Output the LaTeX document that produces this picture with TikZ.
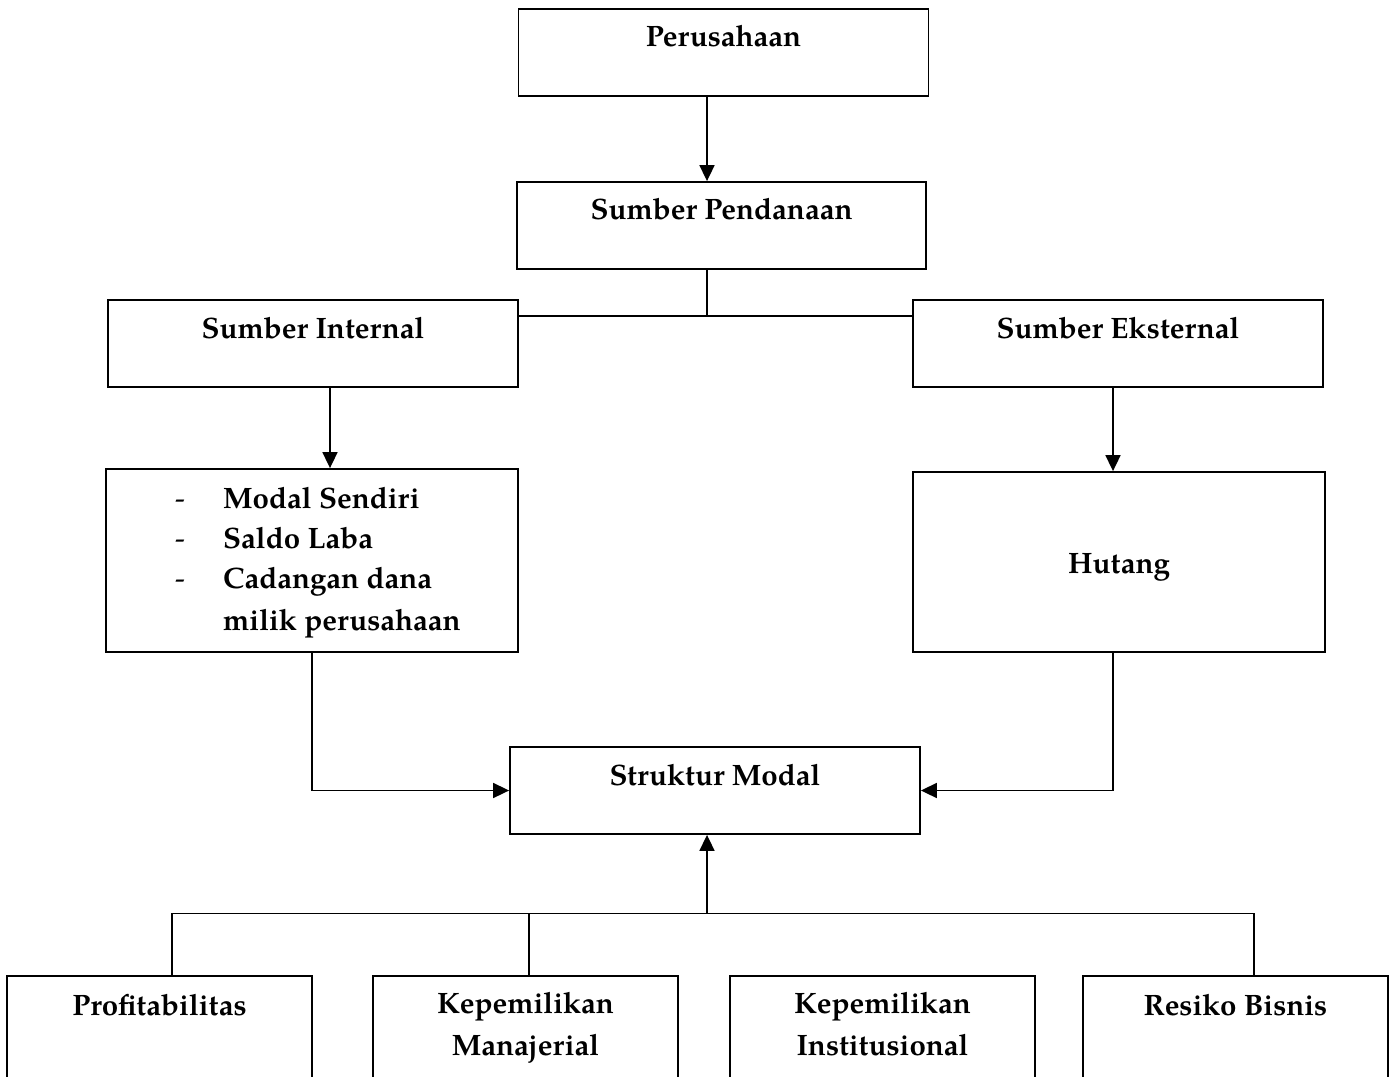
\documentclass[tikz,border=0pt]{standalone}
\usepackage{fontspec}
\setmainfont{TeX Gyre Pagella}
\usetikzlibrary{arrows.meta,calc}
\begin{document}
\begin{tikzpicture}[x=1pt,y=-1pt,
  box/.style={draw,line width=1.8pt,inner sep=0pt,minimum width=#1},
  lbl/.style={anchor=base,font=\bfseries\fontsize{29.5}{34}\selectfont,inner sep=0pt},
  item/.style={anchor=base west,font=\bfseries\fontsize{29.5}{34}\selectfont,inner sep=0pt},
  dsh/.style={anchor=base west,font=\fontsize{29.5}{34}\selectfont,inner sep=0pt},
  conn/.style={line width=1.7pt},
  arr/.style={line width=1.7pt,-{Triangle[length=16pt,width=15pt]}}]
\fill[white] (0,0) rectangle (1394,1076);
\useasboundingbox (0,0) rectangle (1394,1076);
\clip (0,0) rectangle (1394,1076);
% boxes
\node[box=410pt,minimum height=87pt] (per) at (723.5,52.5) {};
\node[box=409pt,minimum height=87pt] (sp) at (721.5,225.5) {};
\node[box=410pt,minimum height=87pt] (si) at (313,343.5) {};
\node[box=410pt,minimum height=87pt] (se) at (1118,343.5) {};
\node[box=412pt,minimum height=183pt] (lst) at (312,560.5) {};
\node[box=412pt,minimum height=180pt] (hut) at (1119,562) {};
\node[box=410pt,minimum height=87pt] (sm) at (715,790.5) {};
\node[box=305pt,minimum height=130pt] (pro) at (159.5,1041) {};
\node[box=305pt,minimum height=130pt] (man) at (525.5,1041) {};
\node[box=305pt,minimum height=130pt] (ins) at (882.5,1041) {};
\node[box=305pt,minimum height=130pt] (res) at (1235.5,1041) {};
% labels
\node[lbl] (tper) at ($(per.north)+(0,38)$) {Perusahaan};
\node[lbl] (tsp) at ($(sp.north)+(0,38)$) {Sumber Pendanaan};
\node[lbl] (tsi) at ($(si.north)+(0,39)$) {Sumber Internal};
\node[lbl] (tse) at ($(se.north)+(0,39)$) {Sumber Eksternal};
\node[lbl] (thut) at (1119,573) {Hutang};
\node[lbl] (tsm) at ($(sm.north)+(0,39)$) {Struktur Modal};
\node[lbl] (tpro) at (159.5,1015) {Profitabilitas};
\node[lbl] (tman1) at (525.5,1013) {Kepemilikan};
\node[lbl] (tman2) at (525.5,1055) {Manajerial};
\node[lbl] (tins1) at (882.5,1013) {Kepemilikan};
\node[lbl] (tins2) at (882.5,1055) {Institusional};
\node[lbl] (tres) at (1235.5,1015) {Resiko Bisnis};
% list
\node[dsh] (d1) at (175,508) {-};
\node[dsh] (d2) at (175,548) {-};
\node[dsh] (d3) at (175,588) {-};
\node[item] (i1) at (223,508) {Modal Sendiri};
\node[item] (i2) at (223,548) {Saldo Laba};
\node[item] (i3) at (223,588) {Cadangan dana};
\node[item] (i4) at (223,630) {milik perusahaan};
% connectors
\coordinate (j) at (707,316);
\coordinate (ax) at (330,0);
\coordinate (bx) at (1113,0);
\coordinate (b) at (707,913.5);
\draw[arr] (per.south -| j) -- (sp.north -| j);
\draw[conn] (sp.south -| j) -- (j);
\draw[conn] (si.east |- j) -- (se.west |- j);
\draw[arr] (si.south -| ax) -- (lst.north -| ax);
\draw[arr] (se.south -| bx) -- (hut.north -| bx);
\draw[arr] (lst.south) |- (sm.west);
\draw[arr] (hut.south -| bx) |- (sm.east);
\draw[arr] (b) -- (sm.south -| b);
\coordinate (bl) at (172,913.5);
\coordinate (bm) at (529,913.5);
\coordinate (br) at (1254,913.5);
\draw[conn] (bl |- pro.north) -- (bl) -- (br) -- (br |- res.north);
\draw[conn] (bm) -- (bm |- man.north);
\end{tikzpicture}
\end{document}
